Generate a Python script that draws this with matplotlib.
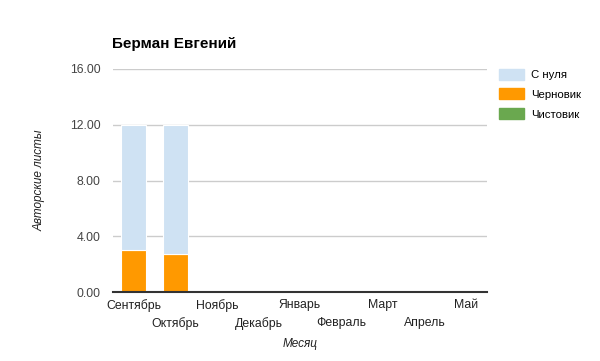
import numpy as np
import matplotlib.pyplot as plt
from matplotlib.patches import Patch

plt.rcParams['font.family'] = ['Liberation Sans', 'DejaVu Sans']

months = ['Сентябрь', 'Октябрь', 'Ноябрь', 'Декабрь', 'Январь',
          'Февраль', 'Март', 'Апрель', 'Май']
chernovik = [3.05, 2.7, 0, 0, 0, 0, 0, 0, 0]
s_nulya = [8.95, 9.3, 0, 0, 0, 0, 0, 0, 0]
chistovik = [0, 0, 0, 0, 0, 0, 0, 0, 0]

col_nul = '#cfe2f3'
col_cher = '#ff9900'
col_chis = '#6aa84f'

fig = plt.figure(figsize=(6, 3.61), dpi=100)
ax = fig.add_axes([0.188, 0.191, 0.624, 0.618])

x = np.arange(len(months))
ax.bar(x, chernovik, 0.6, color=col_cher, edgecolor='white', linewidth=0.8, zorder=3)
ax.bar(x, chistovik, 0.6, bottom=chernovik, color=col_chis, zorder=3)
bottom2 = np.array(chernovik) + np.array(chistovik)
ax.bar(x, s_nulya, 0.6, bottom=bottom2, color=col_nul, edgecolor='white', linewidth=0.8, zorder=3)

ax.set_xlim(-0.5, len(months) - 0.5)
ax.set_ylim(0, 16)
ax.set_yticks([0, 4, 8, 12, 16])
ax.set_yticklabels(['{:.2f}'.format(v) for v in [0, 4, 8, 12, 16]], fontsize=8.8, color='#444444')
ax.grid(axis='y', color='#cccccc', linewidth=1, zorder=0)
ax.tick_params(axis='both', which='both', length=0)
ax.tick_params(axis='y', pad=9)

# staggered month labels: even ones on major ticks, odd ones lower on minor ticks
ax.set_xticks(x[::2])
ax.set_xticklabels(months[::2], fontsize=8.8, color='#222222')
ax.set_xticks(x[1::2], minor=True)
ax.set_xticklabels(months[1::2], minor=True, fontsize=8.8, color='#222222')
ax.tick_params(axis='x', which='major', pad=5)
ax.tick_params(axis='x', which='minor', pad=18)

for s in ['top', 'right', 'left']:
    ax.spines[s].set_visible(False)
ax.spines['bottom'].set_color('#333333')
ax.spines['bottom'].set_linewidth(1.5)
ax.spines['bottom'].set_zorder(4)

ax.set_ylabel('Авторские листы', fontsize=8.5, style='italic', color='#222222', labelpad=17)
ax.set_xlabel('Месяц', fontsize=8.5, style='italic', color='#222222', labelpad=6)

fig.text(0.187, 0.878, 'Берман Евгений', fontsize=11, fontweight='bold',
         color='black', va='center')

handles = [Patch(color=col_nul, label='С нуля'),
           Patch(color=col_cher, label='Черновик'),
           Patch(color=col_chis, label='Чистовик')]
fig.legend(handles=handles, loc='upper left', bbox_to_anchor=(0.832, 0.81),
           frameon=False, fontsize=8.2, handlelength=2.2, handleheight=1.1,
           labelspacing=0.75, handletextpad=0.6, borderaxespad=0, borderpad=0)

plt.savefig('out.png', dpi=100)
